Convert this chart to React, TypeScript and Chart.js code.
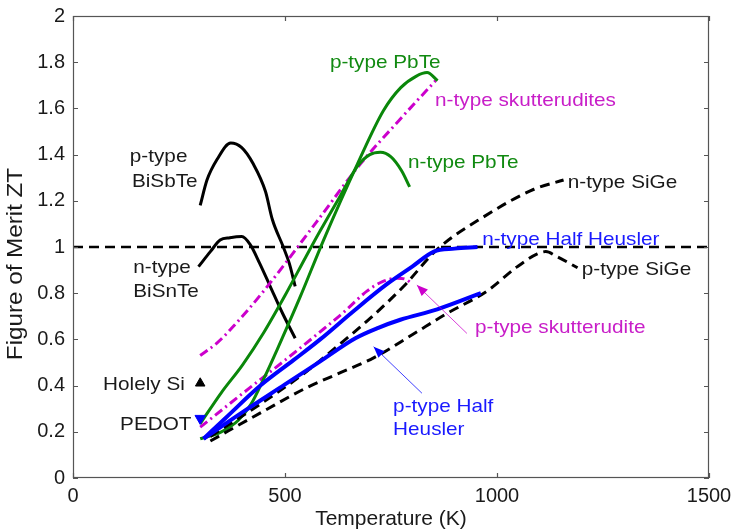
import React, { useEffect, useRef } from 'react';
import { Chart, registerables } from 'chart.js';

Chart.register(...registerables);

// ---------- axis ticks ----------
const xTickValues = [0, 500, 1000, 1500];
const yTickValues = [0, 0.2, 0.4, 0.6, 0.8, 1, 1.2, 1.4, 1.6, 1.8, 2];
const yAxisTitle = 'Figure of Merit ZT';
const xAxisTitle = 'Temperature (K)';

// ---------- series (Temperature K, ZT) ----------
const pBiSbTeT = [300, 316, 340, 372, 398, 425, 454, 470, 496, 510, 524];
const pBiSbTeZT = [1.18, 1.29, 1.38, 1.45, 1.43, 1.36, 1.24, 1.12, 1.0, 0.93, 0.83];

const nBiSnTeT = [296, 324, 347, 370, 398, 418, 440, 465, 495, 524];
const nBiSnTeZT = [0.915, 0.98, 1.03, 1.04, 1.045, 1.01, 0.93, 0.83, 0.71, 0.605];

const pPbTeT = [300, 350, 390, 420, 450, 481, 536, 591, 671, 732, 773, 810, 835, 860];
const pPbTeZT = [0.17, 0.2, 0.25, 0.32, 0.43, 0.554, 0.785, 1.03, 1.36, 1.59, 1.69, 1.74, 1.755, 1.72];

const nPbTeT = [300, 350, 400, 450, 500, 550, 583, 630, 671, 700, 725, 750, 775, 794];
const nPbTeZT = [0.235, 0.37, 0.49, 0.63, 0.79, 0.96, 1.07, 1.22, 1.35, 1.4, 1.41, 1.39, 1.33, 1.26];

const nSkutT = [300, 340, 380, 450, 575, 678, 770, 855];
const nSkutZT = [0.53, 0.585, 0.66, 0.81, 1.11, 1.36, 1.55, 1.72];

const pSkutT = [300, 400, 500, 591, 640, 694, 730, 765, 785, 800];
const pSkutZT = [0.22, 0.366, 0.51, 0.645, 0.72, 0.81, 0.85, 0.865, 0.86, 0.84];

const nHHT = [308, 360, 442, 520, 583, 660, 741, 800, 851, 900, 954];
const nHHZT = [0.17, 0.26, 0.4, 0.51, 0.6, 0.72, 0.84, 0.915, 0.98, 0.993, 1.0];

const pHHT = [308, 400, 500, 583, 666, 720, 772, 859, 962];
const pHHZT = [0.17, 0.285, 0.405, 0.505, 0.605, 0.65, 0.685, 0.73, 0.8];

const nSiGeT = [324, 450, 550, 623, 700, 780, 859, 968, 1087, 1157];
const nSiGeZT = [0.18, 0.33, 0.46, 0.57, 0.69, 0.83, 0.99, 1.13, 1.25, 1.29];

const pSiGeT = [324, 450, 550, 623, 709, 800, 880, 977, 1048, 1095, 1115, 1140, 1190];
const pSiGeZT = [0.16, 0.29, 0.39, 0.45, 0.52, 0.62, 0.71, 0.81, 0.915, 0.97, 0.98, 0.96, 0.91];

const unityT = [0, 1500];
const unityZT = [1, 1];

const pedotT = [300];
const pedotZT = [0.258];
const holelySiT = [300];
const holelySiZT = [0.41];

// ---------- colours ----------
const BLACK = '#000000';
const GREEN = '#0a870a';
const MAGENTA = '#cc00cc';
const BLUE = '#0000ff';
const TXT_BLACK = '#1a1a1a';
const TXT_GREEN = '#118a11';
const TXT_MAGENTA = '#c81ec8';
const TXT_BLUE = '#1a1aff';

// ---------- annotations (data coordinates) ----------
const textLabels = [
  { text: 'p-type PbTe', t: 606, zt: 1.774, color: TXT_GREEN },
  { text: 'n-type skutterudites', t: 854, zt: 1.61, color: TXT_MAGENTA },
  { text: 'n-type PbTe', t: 790, zt: 1.342, color: TXT_GREEN },
  { text: 'n-type SiGe', t: 1167, zt: 1.255, color: TXT_BLACK },
  { text: 'n-type Half Heusler', t: 965, zt: 1.009, color: TXT_BLUE },
  { text: 'p-type SiGe', t: 1200, zt: 0.879, color: TXT_BLACK },
  { text: 'p-type skutterudite', t: 948, zt: 0.628, color: TXT_MAGENTA },
  { text: 'p-type Half', t: 755, zt: 0.286, color: TXT_BLUE },
  { text: 'Heusler', t: 755, zt: 0.186, color: TXT_BLUE },
  { text: 'p-type', t: 134, zt: 1.368, color: TXT_BLACK },
  { text: 'BiSbTe', t: 139, zt: 1.26, color: TXT_BLACK },
  { text: 'n-type', t: 142, zt: 0.887, color: TXT_BLACK },
  { text: 'BiSnTe', t: 142, zt: 0.784, color: TXT_BLACK },
  { text: 'Holely Si', t: 71, zt: 0.381, color: TXT_BLACK },
  { text: 'PEDOT', t: 111, zt: 0.208, color: TXT_BLACK },
];

const arrows = [
  { fromT: 929, fromZT: 0.626, toT: 811, toZT: 0.835, color: MAGENTA },
  { fromT: 823, fromZT: 0.367, toT: 709, toZT: 0.568, color: BLUE },
];

const FONT = '"Liberation Sans", Arial, Helvetica, sans-serif';

function pts(xs: number[], ys: number[]) {
  return xs.map((x, i) => ({ x, y: ys[i] }));
}

function line(label: string, xs: number[], ys: number[], color: string, width: number, dash: number[] = []) {
  return {
    label,
    data: pts(xs, ys),
    borderColor: color,
    backgroundColor: color,
    borderWidth: width,
    borderDash: dash,
    borderCapStyle: 'butt' as const,
    borderJoinStyle: 'round' as const,
    pointRadius: 0,
    pointHoverRadius: 0,
    fill: false,
    showLine: true,
    cubicInterpolationMode: 'monotone' as const,
  };
}

const frameAndLabels = {
  id: 'frameAndLabels',
  afterDraw(chart: any) {
    const { ctx, chartArea } = chart;
    const xs = chart.scales.x;
    const ys = chart.scales.y;
    const { left, right, top, bottom } = chartArea;
    ctx.save();
    // box
    ctx.strokeStyle = '#555555';
    ctx.lineWidth = 1.2;
    ctx.setLineDash([]);
    ctx.strokeRect(left + 0.5, top + 0.5, right - left - 1, bottom - top - 1);
    // inward ticks
    const tl = 5;
    ctx.beginPath();
    xTickValues.forEach((v) => {
      const px = Math.round(xs.getPixelForValue(v)) + 0.5;
      ctx.moveTo(px, bottom);
      ctx.lineTo(px, bottom - tl);
      ctx.moveTo(px, top);
      ctx.lineTo(px, top + tl);
    });
    yTickValues.forEach((v) => {
      const py = Math.round(ys.getPixelForValue(v)) + 0.5;
      ctx.moveTo(left, py);
      ctx.lineTo(left + tl, py);
      ctx.moveTo(right, py);
      ctx.lineTo(right - tl, py);
    });
    ctx.stroke();

    // y axis title (rotated)
    ctx.save();
    ctx.translate(16, (top + bottom) / 2 + 17);
    ctx.rotate(-Math.PI / 2);
    ctx.scale(1.1, 1);
    ctx.font = `22px ${FONT}`;
    ctx.fillStyle = '#1a1a1a';
    ctx.textAlign = 'center';
    ctx.textBaseline = 'middle';
    ctx.fillText(yAxisTitle, 0, 0);
    ctx.restore();

    // arrows
    arrows.forEach((a) => {
      const x1 = xs.getPixelForValue(a.fromT);
      const y1 = ys.getPixelForValue(a.fromZT);
      const x2 = xs.getPixelForValue(a.toT);
      const y2 = ys.getPixelForValue(a.toZT);
      const ang = Math.atan2(y2 - y1, x2 - x1);
      ctx.strokeStyle = a.color;
      ctx.fillStyle = a.color;
      ctx.lineWidth = 1;
      ctx.globalAlpha = 0.75;
      ctx.beginPath();
      ctx.moveTo(x1, y1);
      ctx.lineTo(x2, y2);
      ctx.stroke();
      ctx.globalAlpha = 1;
      const hl = 11;
      const hw = 4.5;
      ctx.beginPath();
      ctx.moveTo(x2, y2);
      ctx.lineTo(x2 - hl * Math.cos(ang) + hw * Math.sin(ang), y2 - hl * Math.sin(ang) - hw * Math.cos(ang));
      ctx.lineTo(x2 - hl * Math.cos(ang) - hw * Math.sin(ang), y2 - hl * Math.sin(ang) + hw * Math.cos(ang));
      ctx.closePath();
      ctx.fill();
    });

    // text labels
    ctx.font = `18.5px ${FONT}`;
    ctx.textAlign = 'left';
    ctx.textBaseline = 'alphabetic';
    textLabels.forEach((l) => {
      const px = xs.getPixelForValue(l.t);
      const py = ys.getPixelForValue(l.zt);
      ctx.save();
      ctx.translate(px, py);
      ctx.scale(1.12, 1);
      ctx.fillStyle = l.color;
      ctx.fillText(l.text, 0, 0);
      ctx.restore();
    });
    ctx.restore();
  },
};

export default function App() {
  const ref = useRef<HTMLCanvasElement>(null);

  useEffect(() => {
    document.body.style.margin = '0';
    const canvas = ref.current;
    if (!canvas) return;

    const datasets: any[] = [
      {
        label: 'PEDOT',
        data: pts(pedotT, pedotZT),
        showLine: false,
        pointStyle: 'triangle',
        rotation: 180,
        pointRadius: 6,
        pointBackgroundColor: BLUE,
        pointBorderColor: BLUE,
        pointBorderWidth: 1,
      },
      {
        label: 'Holely Si',
        data: pts(holelySiT, holelySiZT),
        showLine: false,
        pointStyle: 'triangle',
        pointRadius: 5.5,
        pointBackgroundColor: BLACK,
        pointBorderColor: BLACK,
        pointBorderWidth: 1,
      },
      line('n-type Half Heusler', nHHT, nHHZT, BLUE, 4),
      line('p-type Half Heusler', pHHT, pHHZT, BLUE, 4),
      line('n-type SiGe', nSiGeT, nSiGeZT, BLACK, 3, [10, 6]),
      line('p-type SiGe', pSiGeT, pSiGeZT, BLACK, 3, [10, 6]),
      line('p-type PbTe', pPbTeT, pPbTeZT, GREEN, 3),
      line('n-type PbTe', nPbTeT, nPbTeZT, GREEN, 3),
      line('p-type skutterudite', pSkutT, pSkutZT, MAGENTA, 3, [9, 4, 2, 4]),
      line('n-type skutterudites', nSkutT, nSkutZT, MAGENTA, 3, [9, 4, 2, 4]),
      line('p-type BiSbTe', pBiSbTeT, pBiSbTeZT, BLACK, 3),
      line('n-type BiSnTe', nBiSnTeT, nBiSnTeZT, BLACK, 3),
      { ...line('ZT = 1', unityT, unityZT, BLACK, 2.5, [10, 6]), cubicInterpolationMode: 'default', tension: 0 },
    ];

    const chart = new Chart(canvas, {
      type: 'line',
      data: { datasets },
      options: {
        responsive: false,
        animation: false,
        devicePixelRatio: 1,
        events: [],
        layout: { padding: { top: 16, right: 26, left: 0, bottom: 0 } },
        plugins: {
          legend: { display: false },
          tooltip: { enabled: false },
          title: { display: false },
        },
        scales: {
          x: {
            type: 'linear',
            min: 0,
            max: 1500,
            afterBuildTicks: (scale: any) => {
              scale.ticks = xTickValues.map((v) => ({ value: v }));
            },
            afterFit: (scale: any) => {
              scale.height = 54;
              scale.paddingLeft = 0;
              scale.paddingRight = 0;
            },
            grid: { display: false, drawTicks: false },
            border: { display: false },
            ticks: {
              color: '#1a1a1a',
              font: { family: FONT, size: 20 },
              padding: 6,
              maxRotation: 0,
              autoSkip: false,
              callback: (v: any) => String(v),
            },
            title: {
              display: true,
              text: xAxisTitle,
              color: '#1a1a1a',
              font: { family: FONT, size: 21 },
              padding: { top: 0, bottom: 0 },
            },
          },
          y: {
            type: 'linear',
            min: 0,
            max: 2,
            afterBuildTicks: (scale: any) => {
              scale.ticks = yTickValues.map((v) => ({ value: v }));
            },
            afterFit: (scale: any) => {
              scale.width = 73;
              scale.paddingTop = 0;
              scale.paddingBottom = 0;
            },
            grid: { display: false, drawTicks: false },
            border: { display: false },
            ticks: {
              color: '#1a1a1a',
              font: { family: FONT, size: 20 },
              padding: 8,
              autoSkip: false,
              callback: (v: any) => String(Number(Number(v).toFixed(1))),
            },
            title: { display: false },
          },
        },
      },
      plugins: [frameAndLabels],
    } as any);

    return () => chart.destroy();
  }, []);

  return (
    <div style={{ width: 735, height: 532, background: '#ffffff' }}>
      <canvas ref={ref} width={735} height={532} style={{ display: 'block' }} />
    </div>
  );
}
